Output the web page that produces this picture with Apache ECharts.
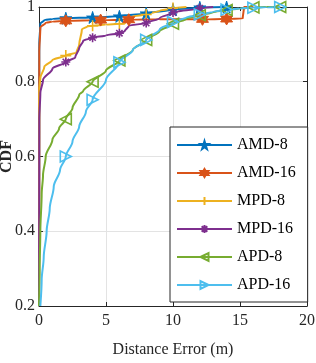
<!DOCTYPE html>
<html>
<head>
<meta charset="utf-8">
<script src="https://cdn.jsdelivr.net/npm/echarts@6/dist/echarts.min.js"></script>
<style>html,body{margin:0;padding:0;background:#fff}#c{width:316px;height:363px}</style>
</head>
<body>
<div id="c"></div>
<script>
// ---- data ----
const seriesNames = ['AMD-8', 'AMD-16', 'MPD-8', 'MPD-16', 'APD-8', 'APD-16'];

const amd8X = [0, 0.02, 0.1, 0.4, 1, 2, 4, 6, 8, 10, 12, 14];
const amd8Y = [0.2, 0.9, 0.955, 0.965, 0.968, 0.97, 0.972, 0.975, 0.983, 0.993, 0.999, 1];
const amd8Marks = [2, 4, 6, 8, 10, 12, 14];

const amd16X = [0, 0.02, 0.1, 0.5, 1, 2, 4.6, 6.7, 9, 12.2, 14, 15.2, 15.3, 16];
const amd16Y = [0.2, 0.88, 0.945, 0.958, 0.961, 0.963, 0.965, 0.966, 0.967, 0.967, 0.968, 0.969, 1, 1];
const amd16Marks = [2, 4.6, 6.7, 12.2, 14];

const mpd8X = [0, 0.02, 0.1, 0.4, 1, 2, 2.8, 3.0, 3.2, 3.6, 4, 5, 6, 6.4, 6.6, 7, 8, 9, 10, 11];
const mpd8Y = [0.2, 0.78, 0.81, 0.84, 0.858, 0.87, 0.878, 0.9, 0.94, 0.948, 0.95, 0.953, 0.955, 0.956, 0.968, 0.975, 0.98, 0.99, 0.997, 1];
const mpd8Marks = [2, 4, 6, 8, 10];

const mpd16X = [0, 0.02, 0.1, 0.3, 1, 2, 2.7, 3.0, 3.3, 4, 5, 6, 6.4, 6.7, 8, 9, 10, 12, 13];
const mpd16Y = [0.2, 0.7, 0.77, 0.805, 0.835, 0.853, 0.865, 0.89, 0.91, 0.918, 0.924, 0.93, 0.935, 0.95, 0.957, 0.97, 0.985, 0.997, 1];
const mpd16Marks = [2, 4, 6, 8, 10, 12];

const apd8X = [0, 0.05, 0.1, 0.2, 0.3, 0.5, 1, 1.5, 2, 2.5, 3, 3.3, 4, 5, 6, 7, 8, 9, 10, 11, 12, 13, 14, 15, 16, 17, 18];
const apd8Y = [0.2, 0.3, 0.4, 0.5, 0.55, 0.6, 0.645, 0.675, 0.7, 0.73, 0.765, 0.775, 0.8, 0.83, 0.857, 0.885, 0.912, 0.935, 0.955, 0.968, 0.978, 0.986, 0.992, 0.996, 0.999, 1, 1];
const apd8Marks = [2, 4, 6, 8, 10, 12, 14, 16, 18];

const apd16X = [0.1, 0.2, 0.35, 0.57, 0.8, 1.1, 1.57, 2, 2.5, 3, 3.5, 4, 5, 6, 7, 8, 9, 10, 11, 12, 13, 14, 15, 16, 17, 18];
const apd16Y = [0.2, 0.27, 0.33, 0.4, 0.46, 0.52, 0.564, 0.6, 0.64, 0.68, 0.72, 0.752, 0.805, 0.852, 0.885, 0.912, 0.94, 0.96, 0.972, 0.98, 0.987, 0.993, 0.996, 0.998, 0.999, 1];
const apd16Marks = [2, 4, 6, 8, 10, 12, 14, 16, 18];

const xTicks = [0, 5, 10, 15, 20];
const yTicks = [0.2, 0.4, 0.6, 0.8, 1];

// ---- styles ----
const colors = ['#0072BD', '#D95319', '#EDB120', '#7E2F8E', '#77AC30', '#4DBEEE'];
const pentagram = 'path://M50,0 L61,35 L98,35 L68,57 L79,91 L50,70 L21,91 L32,57 L2,35 L39,35 Z';
const hexagram = 'path://M50,0 L63,25 L93,25 L78,50 L93,75 L63,75 L50,100 L37,75 L7,75 L22,50 L7,25 L37,25 Z';
const plus = 'path://M50,0 L50,100 M0,50 L100,50';
const asterisk = 'path://M50,0 L50,100 M0,50 L100,50 M15,15 L85,85 M85,15 L15,85';
const triLeft = 'path://M0,50 L100,0 L100,100 Z';
const triRight = 'path://M100,50 L0,0 L0,100 Z';
const markers = [pentagram, hexagram, plus, asterisk, triLeft, triRight];
const filled = [true, true, false, false, false, false];
const sizes = [12, 12, 11, 9, 11, 11];

const allX = [amd8X, amd16X, mpd8X, mpd16X, apd8X, apd16X];
const allY = [amd8Y, amd16Y, mpd8Y, mpd16Y, apd8Y, apd16Y];
const allMarks = [amd8Marks, amd16Marks, mpd8Marks, mpd16Marks, apd8Marks, apd16Marks];

const font = 'Liberation Serif';
const axisColor = '#262626';

const series = seriesNames.map((name, i) => ({
  name: name,
  type: 'line',
  smooth: 0.3,
  smoothMonotone: 'y',
  symbol: markers[i],
  symbolSize: sizes[i],
  showAllSymbol: true,
  lineStyle: { color: colors[i], width: 2 },
  itemStyle: filled[i]
    ? { color: colors[i], borderColor: colors[i], borderWidth: 1 }
    : { color: 'rgba(255,255,255,0)', borderColor: colors[i], borderWidth: 1.6 },
  data: allX[i].map((x, j) => ({
    value: [x, allY[i][j]],
    symbol: allMarks[i].includes(x) ? markers[i] : 'none'
  })),
  animation: false
}));

const chart = echarts.init(document.getElementById('c'));
chart.setOption({
  animation: false,
  grid: { left: 39, right: 9, top: 7, bottom: 57, containLabel: false, outerBoundsMode: 'none' },
  xAxis: [{
    type: 'value', min: xTicks[0], max: xTicks[xTicks.length - 1], interval: 5,
    name: 'Distance Error (m)', nameLocation: 'middle', nameGap: 36,
    nameTextStyle: { fontFamily: font, fontSize: 16, color: axisColor },
    axisLine: { onZero: false, lineStyle: { color: axisColor, width: 1 } },
    axisTick: { inside: true, length: 4, lineStyle: { color: axisColor } },
    axisLabel: { fontFamily: font, fontSize: 16, color: axisColor, margin: 7 },
    splitLine: { show: true, lineStyle: { color: '#e3e3e3', width: 1 } }
  }, {
    type: 'value', position: 'top', min: xTicks[0], max: xTicks[xTicks.length - 1], interval: 5,
    axisLine: { onZero: false, lineStyle: { color: axisColor, width: 1 } },
    axisTick: { inside: true, length: 4, lineStyle: { color: axisColor } },
    axisLabel: { show: false }, splitLine: { show: false }
  }],
  yAxis: [{
    type: 'value', min: yTicks[0], max: yTicks[yTicks.length - 1], interval: 0.2,
    name: 'CDF', nameLocation: 'middle', nameGap: 32, nameRotate: 90,
    nameTextStyle: { fontFamily: font, fontSize: 16, fontWeight: 'bold', color: axisColor, verticalAlign: 'middle' },
    nameMoveOverlap: false,
    axisLine: { onZero: false, lineStyle: { color: axisColor, width: 1 } },
    axisTick: { inside: true, length: 4, lineStyle: { color: axisColor } },
    axisLabel: { fontFamily: font, fontSize: 16, color: axisColor, margin: 4 },
    splitLine: { show: true, lineStyle: { color: '#e3e3e3', width: 1 } }
  }, {
    type: 'value', position: 'right', min: yTicks[0], max: yTicks[yTicks.length - 1], interval: 0.2,
    axisLine: { onZero: false, lineStyle: { color: axisColor, width: 1 } },
    axisTick: { inside: true, length: 4, lineStyle: { color: axisColor } },
    axisLabel: { show: false }, splitLine: { show: false }
  }],
  legend: {
    data: seriesNames,
    orient: 'vertical',
    left: 170, top: 127,
    itemWidth: 55, itemHeight: 10, itemGap: 12,
    padding: [10, 12, 9, 6],
    borderColor: axisColor, borderWidth: 1,
    backgroundColor: '#fff',
    textStyle: { fontFamily: font, fontSize: 16, lineHeight: 14, color: '#000' }
  },
  series: series
});
</script>
</body>
</html>
